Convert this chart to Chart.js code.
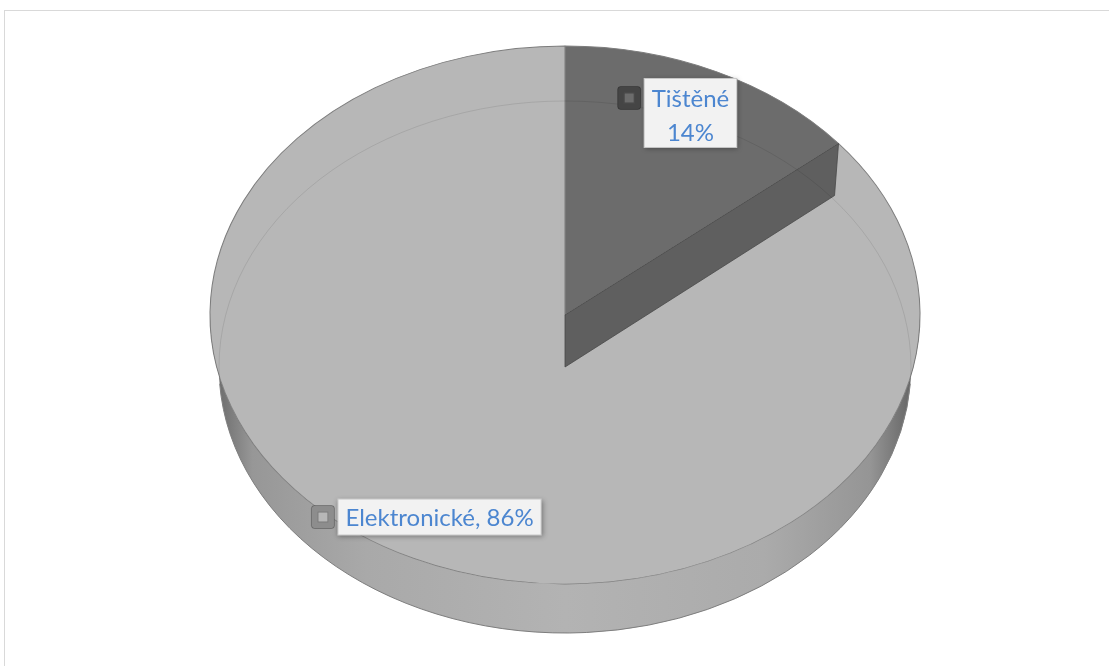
<!DOCTYPE html>
<html lang="cs">
<head>
<meta charset="utf-8">
<title>Tištěné vs. elektronické</title>
<script src="https://cdn.jsdelivr.net/npm/chart.js@4.4.0/dist/chart.umd.min.js"></script>
<style>
  html, body { margin:0; padding:0; background:#fff; overflow:hidden; }
  #wrap { position:relative; width:1109px; height:666px; }
  #frame { position:absolute; left:4px; top:10px; width:1200px; height:800px; border:1px solid #d9d9d9; box-sizing:border-box; }
  #chart { position:absolute; left:0; top:0; }
</style>
</head>
<body>
<div id="wrap">
  <div id="frame"></div>
  <canvas id="chart" width="1109" height="666"></canvas>
</div>
<script>
// ---------------------------
// DATA
// ---------------------------
const categories = ["Tištěné", "Elektronické"];
const shares = [14, 86];
const sliceColors = ["#6c6c6c", "#b7b7b7"];
const keyColors = ["#454545", "#8d8d8d"];
const twoLineLabel = [true, false];

// ---------------------------
// LOOK
// ---------------------------
const PIE = { cx:565, cy:315, rx:355, ry:269 };     // top face
const BASE = { cx:565, cy:367, rx:346, ry:266 };    // bottom rim
const LABEL_R = 0.83;
const TEXT_COLOR = "#4c86d0";
const FONT = "24px Lato, 'Open Sans', sans-serif";

// ---------------------------
// HELPERS
// ---------------------------
function wallGradient(ctx){
  const g = ctx.createLinearGradient(PIE.cx - PIE.rx, 0, PIE.cx + PIE.rx, 0);
  g.addColorStop(0.00, "#444");
  g.addColorStop(0.015, "#707070");
  g.addColorStop(0.06, "#979797");
  g.addColorStop(0.22, "#a9a9a9");
  g.addColorStop(0.50, "#b3b3b3");
  g.addColorStop(0.78, "#ababab");
  g.addColorStop(0.93, "#959595");
  g.addColorStop(0.985, "#686868");
  g.addColorStop(1.00, "#3e3e3e");
  return g;
}

function drawWall(ctx){
  ctx.save();
  ctx.beginPath();
  ctx.ellipse(PIE.cx, PIE.cy, PIE.rx, PIE.ry, 0, 0, Math.PI, false);
  ctx.ellipse(BASE.cx, BASE.cy, BASE.rx, BASE.ry, 0, Math.PI, 0, true);
  ctx.closePath();
  ctx.fillStyle = wallGradient(ctx);
  ctx.fill();
  ctx.beginPath();
  ctx.ellipse(BASE.cx, BASE.cy, BASE.rx, BASE.ry, 0, Math.PI * 0.98, Math.PI * 0.02, true);
  ctx.strokeStyle = "#8a8a8a";
  ctx.lineWidth = 1;
  ctx.stroke();
  ctx.restore();
}

// point on the top face ellipse for a chart.js arc angle
function onTop(angle, f){
  return { x: PIE.cx + PIE.rx * f * Math.cos(angle), y: PIE.cy + PIE.ry * f * Math.sin(angle) };
}

function drawCutFace(ctx, arc){
  const p = onTop(arc.endAngle, 1);
  const depth = 52;
  ctx.save();
  ctx.beginPath();
  ctx.moveTo(PIE.cx, PIE.cy);
  ctx.lineTo(p.x, p.y);
  ctx.lineTo(p.x - 4, p.y + depth);
  ctx.lineTo(PIE.cx, PIE.cy + depth);
  ctx.closePath();
  ctx.fillStyle = "#5f5f5f";
  ctx.fill();
  ctx.strokeStyle = "#484848";
  ctx.lineWidth = 0.8;
  ctx.stroke();
  ctx.restore();
}

function drawLabel(ctx, arc, i){
  const mid = (arc.startAngle + arc.endAngle) / 2;
  const c = onTop(mid, LABEL_R);
  const pct = shares[i] + "%";
  const lines = twoLineLabel[i] ? [categories[i], pct] : [categories[i] + ", " + pct];
  ctx.save();
  ctx.font = FONT;
  const tw = Math.max(...lines.map(l => ctx.measureText(l).width));
  const w = tw + 16;
  const lineGap = 34;
  const h = lines.length === 1 ? 37 : 70;
  const x0 = c.x - w / 2, y0 = c.y - h / 2;

  ctx.shadowColor = "rgba(0,0,0,0.35)";
  ctx.shadowBlur = 5;
  ctx.shadowOffsetX = 1;
  ctx.shadowOffsetY = 1;
  ctx.fillStyle = "#f2f2f2";
  ctx.fillRect(x0, y0, w, h);
  ctx.shadowColor = "transparent";
  ctx.strokeStyle = "rgba(0,0,0,0.18)";
  ctx.lineWidth = 1;
  ctx.strokeRect(x0 + 0.5, y0 + 0.5, w - 1, h - 1);

  // legend key, level with the first line
  const firstY = lines.length === 1 ? c.y : y0 + 20;
  const ks = 23;
  const kx = x0 - 3 - ks, ky = firstY - ks / 2;
  ctx.beginPath();
  ctx.roundRect(kx, ky, ks, ks, 3);
  ctx.fillStyle = keyColors[i];
  ctx.fill();
  ctx.strokeStyle = "rgba(0,0,0,0.25)";
  ctx.stroke();
  ctx.fillStyle = sliceColors[i];
  ctx.fillRect(kx + 6, ky + 6, ks - 12, ks - 12);
  ctx.strokeStyle = "rgba(0,0,0,0.35)";
  ctx.strokeRect(kx + 6.5, ky + 6.5, ks - 13, ks - 13);

  ctx.fillStyle = TEXT_COLOR;
  ctx.textAlign = "center";
  ctx.textBaseline = "middle";
  lines.forEach((l, k) => {
    const ly = lines.length === 1 ? c.y + 1 : firstY + 1 + k * lineGap;
    ctx.fillText(l, c.x, ly);
  });
  ctx.restore();
}

// ---------------------------
// 3D LOOK PLUGIN
// ---------------------------
const pie3d = {
  id: "pie3d",
  beforeDatasetsDraw(chart){
    const ctx = chart.ctx;
    const arc = chart.getDatasetMeta(0).data[0];
    drawWall(ctx);
    ctx.save();
    ctx.translate(PIE.cx, PIE.cy);
    ctx.scale(PIE.rx / arc.outerRadius, PIE.ry / arc.outerRadius);
    ctx.translate(-arc.x, -arc.y);
  },
  afterDatasetsDraw(chart){
    const ctx = chart.ctx;
    ctx.restore();
    const arcs = chart.getDatasetMeta(0).data;
    drawCutFace(ctx, arcs[0]);
    // bottom rim seen through the top face
    ctx.save();
    ctx.beginPath();
    ctx.ellipse(BASE.cx, BASE.cy, BASE.rx, BASE.ry, 0, 0, Math.PI * 2);
    ctx.strokeStyle = "rgba(0,0,0,0.09)";
    ctx.lineWidth = 1;
    ctx.stroke();
    ctx.restore();
    arcs.forEach((a, i) => drawLabel(ctx, a, i));
  }
};

// ---------------------------
// CHART
// ---------------------------
new Chart(document.getElementById("chart"), {
  type: "pie",
  data: {
    labels: categories,
    datasets: [{
      data: shares,
      backgroundColor: sliceColors,
      borderColor: "#7d7d7d",
      borderWidth: 0.9
    }]
  },
  options: {
    responsive: false,
    animation: false,
    events: [],
    layout: { padding: 20 },
    plugins: { legend: { display: false }, tooltip: { enabled: false } }
  },
  plugins: [pie3d]
});
</script>
</body>
</html>
